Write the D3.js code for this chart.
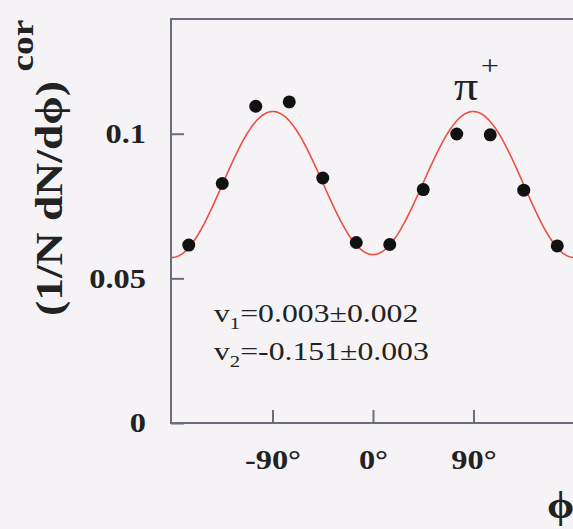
<!DOCTYPE html>
<html>
<head>
<meta charset="utf-8">
<script src="https://cdn.jsdelivr.net/npm/d3@7"></script>
<style>
  html, body { margin: 0; padding: 0; background: #f5f3f5; }
  svg { display: block; }
  text { font-family: "Liberation Serif", "Times New Roman", serif; fill: #222; }
  .wide { transform-box: fill-box; transform: scaleX(1.2); }
  .ytick text { transform-origin: right center; }
  .xtick text { transform-origin: center; }
</style>
</head>
<body>
<div id="chart"></div>
<script>
// Azimuthal distribution of pi+ relative to the reaction plane, 30-degree bins
const phiCenters = [-165, -135, -105, -75, -45, -15, 15, 45, 75, 105, 135, 165];
const yieldValues = [0.0615, 0.0828, 0.1095, 0.1110, 0.0847, 0.0624,
                     0.0617, 0.0807, 0.0999, 0.0996, 0.0805, 0.0612];

// Fourier fit parameters: N(1 + 2 v1 cos(phi) + 2 v2 cos(2 phi))
const fitNorm = 0.0827;
const v1 = 0.003;
const v2 = -0.151;

const xTickValues = [-90, 0, 90];
const xTickLabels = ["-90°", "0°", "90°"];
const yTickValues = [0, 0.05, 0.1];
const yTickLabels = ["0", "0.05", "0.1"];

const W = 573, H = 529;
const plotLeft = 171, plotTop = 18, plotBottom = 423, plotRight = 574;

const svg = d3.select("#chart").append("svg")
  .attr("width", W).attr("height", H);

svg.append("rect").attr("width", W).attr("height", H).attr("fill", "#f5f3f5");

const x = d3.scaleLinear().domain([-180, 180]).range([plotLeft + 1, plotRight]);
const y = d3.scaleLinear().domain([0, 0.14]).range([plotBottom, plotTop]);

svg.append("clipPath").attr("id", "plotArea")
  .append("rect").attr("x", plotLeft).attr("y", plotTop)
  .attr("width", plotRight - plotLeft).attr("height", plotBottom - plotTop);

// fit curve
const fitPhi = d3.range(-180, 180.5, 1);
const fit = phi => {
  const r = phi * Math.PI / 180;
  return fitNorm * (1 + 2 * v1 * Math.cos(r) + 2 * v2 * Math.cos(2 * r));
};
svg.append("path")
  .datum(fitPhi)
  .attr("clip-path", "url(#plotArea)")
  .attr("fill", "none")
  .attr("stroke", "#ec5040")
  .attr("stroke-width", 1.6)
  .attr("d", d3.line().x(d => x(d)).y(d => y(fit(d))));

// data points
svg.append("g").selectAll("circle")
  .data(phiCenters)
  .join("circle")
  .attr("cx", d => x(d))
  .attr("cy", (d, i) => y(yieldValues[i]))
  .attr("r", 6.5)
  .attr("fill", "#111");

// axes with inward ticks
const yAxis = d3.axisLeft(y)
  .tickValues(yTickValues)
  .tickFormat((d, i) => yTickLabels[i])
  .tickSize(-13)
  .tickPadding(25);
const gy = svg.append("g").attr("class", "ytick")
  .attr("transform", `translate(${plotLeft},0)`)
  .call(yAxis);

const xAxis = d3.axisBottom(x)
  .tickValues(xTickValues)
  .tickFormat((d, i) => xTickLabels[i])
  .tickSize(-13)
  .tickPadding(27);
const gx = svg.append("g").attr("class", "xtick")
  .attr("transform", `translate(0,${plotBottom})`)
  .call(xAxis);

[gx, gy].forEach(g => {
  g.select(".domain").remove();
  g.selectAll(".tick line").attr("stroke", "#6c6c7c").attr("stroke-width", 2);
  g.selectAll(".tick text")
    .attr("class", "wide")
    .style("font-family", "'Liberation Serif', serif")
    .style("font-size", "27px")
    .style("font-weight", "bold")
    .attr("fill", "#222");
});

// frame: left, top and bottom edges
svg.append("path")
  .attr("fill", "none")
  .attr("stroke", "#6c6c7c")
  .attr("stroke-width", 2)
  .attr("d", `M${plotRight},${plotTop + 1}H${plotLeft}V${plotBottom}H${plotRight}`);

// y-axis title
const yTitle = svg.append("text")
  .attr("transform", `translate(62,316) rotate(-90) scale(1.2,1)`)
  .style("font-size", "38px")
  .style("font-weight", "bold");
yTitle.append("tspan").text("(1/N dN/dϕ)");
yTitle.append("tspan").attr("dy", -29).attr("dx", 8).style("font-size", "31px").text("cor");

// x-axis title
svg.append("text")
  .attr("transform", `translate(547,518) scale(1.15,1)`)
  .style("font-size", "38px")
  .style("font-weight", "bold")
  .text("ϕ");

// particle label
const pLabel = svg.append("text")
  .attr("transform", `translate(454,100) scale(1.2,1)`)
  .style("font-size", "40px");
pLabel.append("tspan").text("π");
pLabel.append("tspan").attr("dy", -25).attr("dx", 2).style("font-size", "27px").text("+");

// fit results
function flowLine(yPos, sub, value) {
  const t = svg.append("text")
    .attr("transform", `translate(214,${yPos}) scale(1.22,1)`)
    .style("font-size", "26px")
    .attr("fill", "#333");
  t.append("tspan").text("v");
  t.append("tspan").attr("dy", 7).style("font-size", "17px").text(sub);
  t.append("tspan").attr("dy", -7).text(value);
}
flowLine(322, "1", "=" + v1.toFixed(3) + "±0.002");
flowLine(360, "2", "=" + v2.toFixed(3) + "±0.003");
</script>
</body>
</html>
